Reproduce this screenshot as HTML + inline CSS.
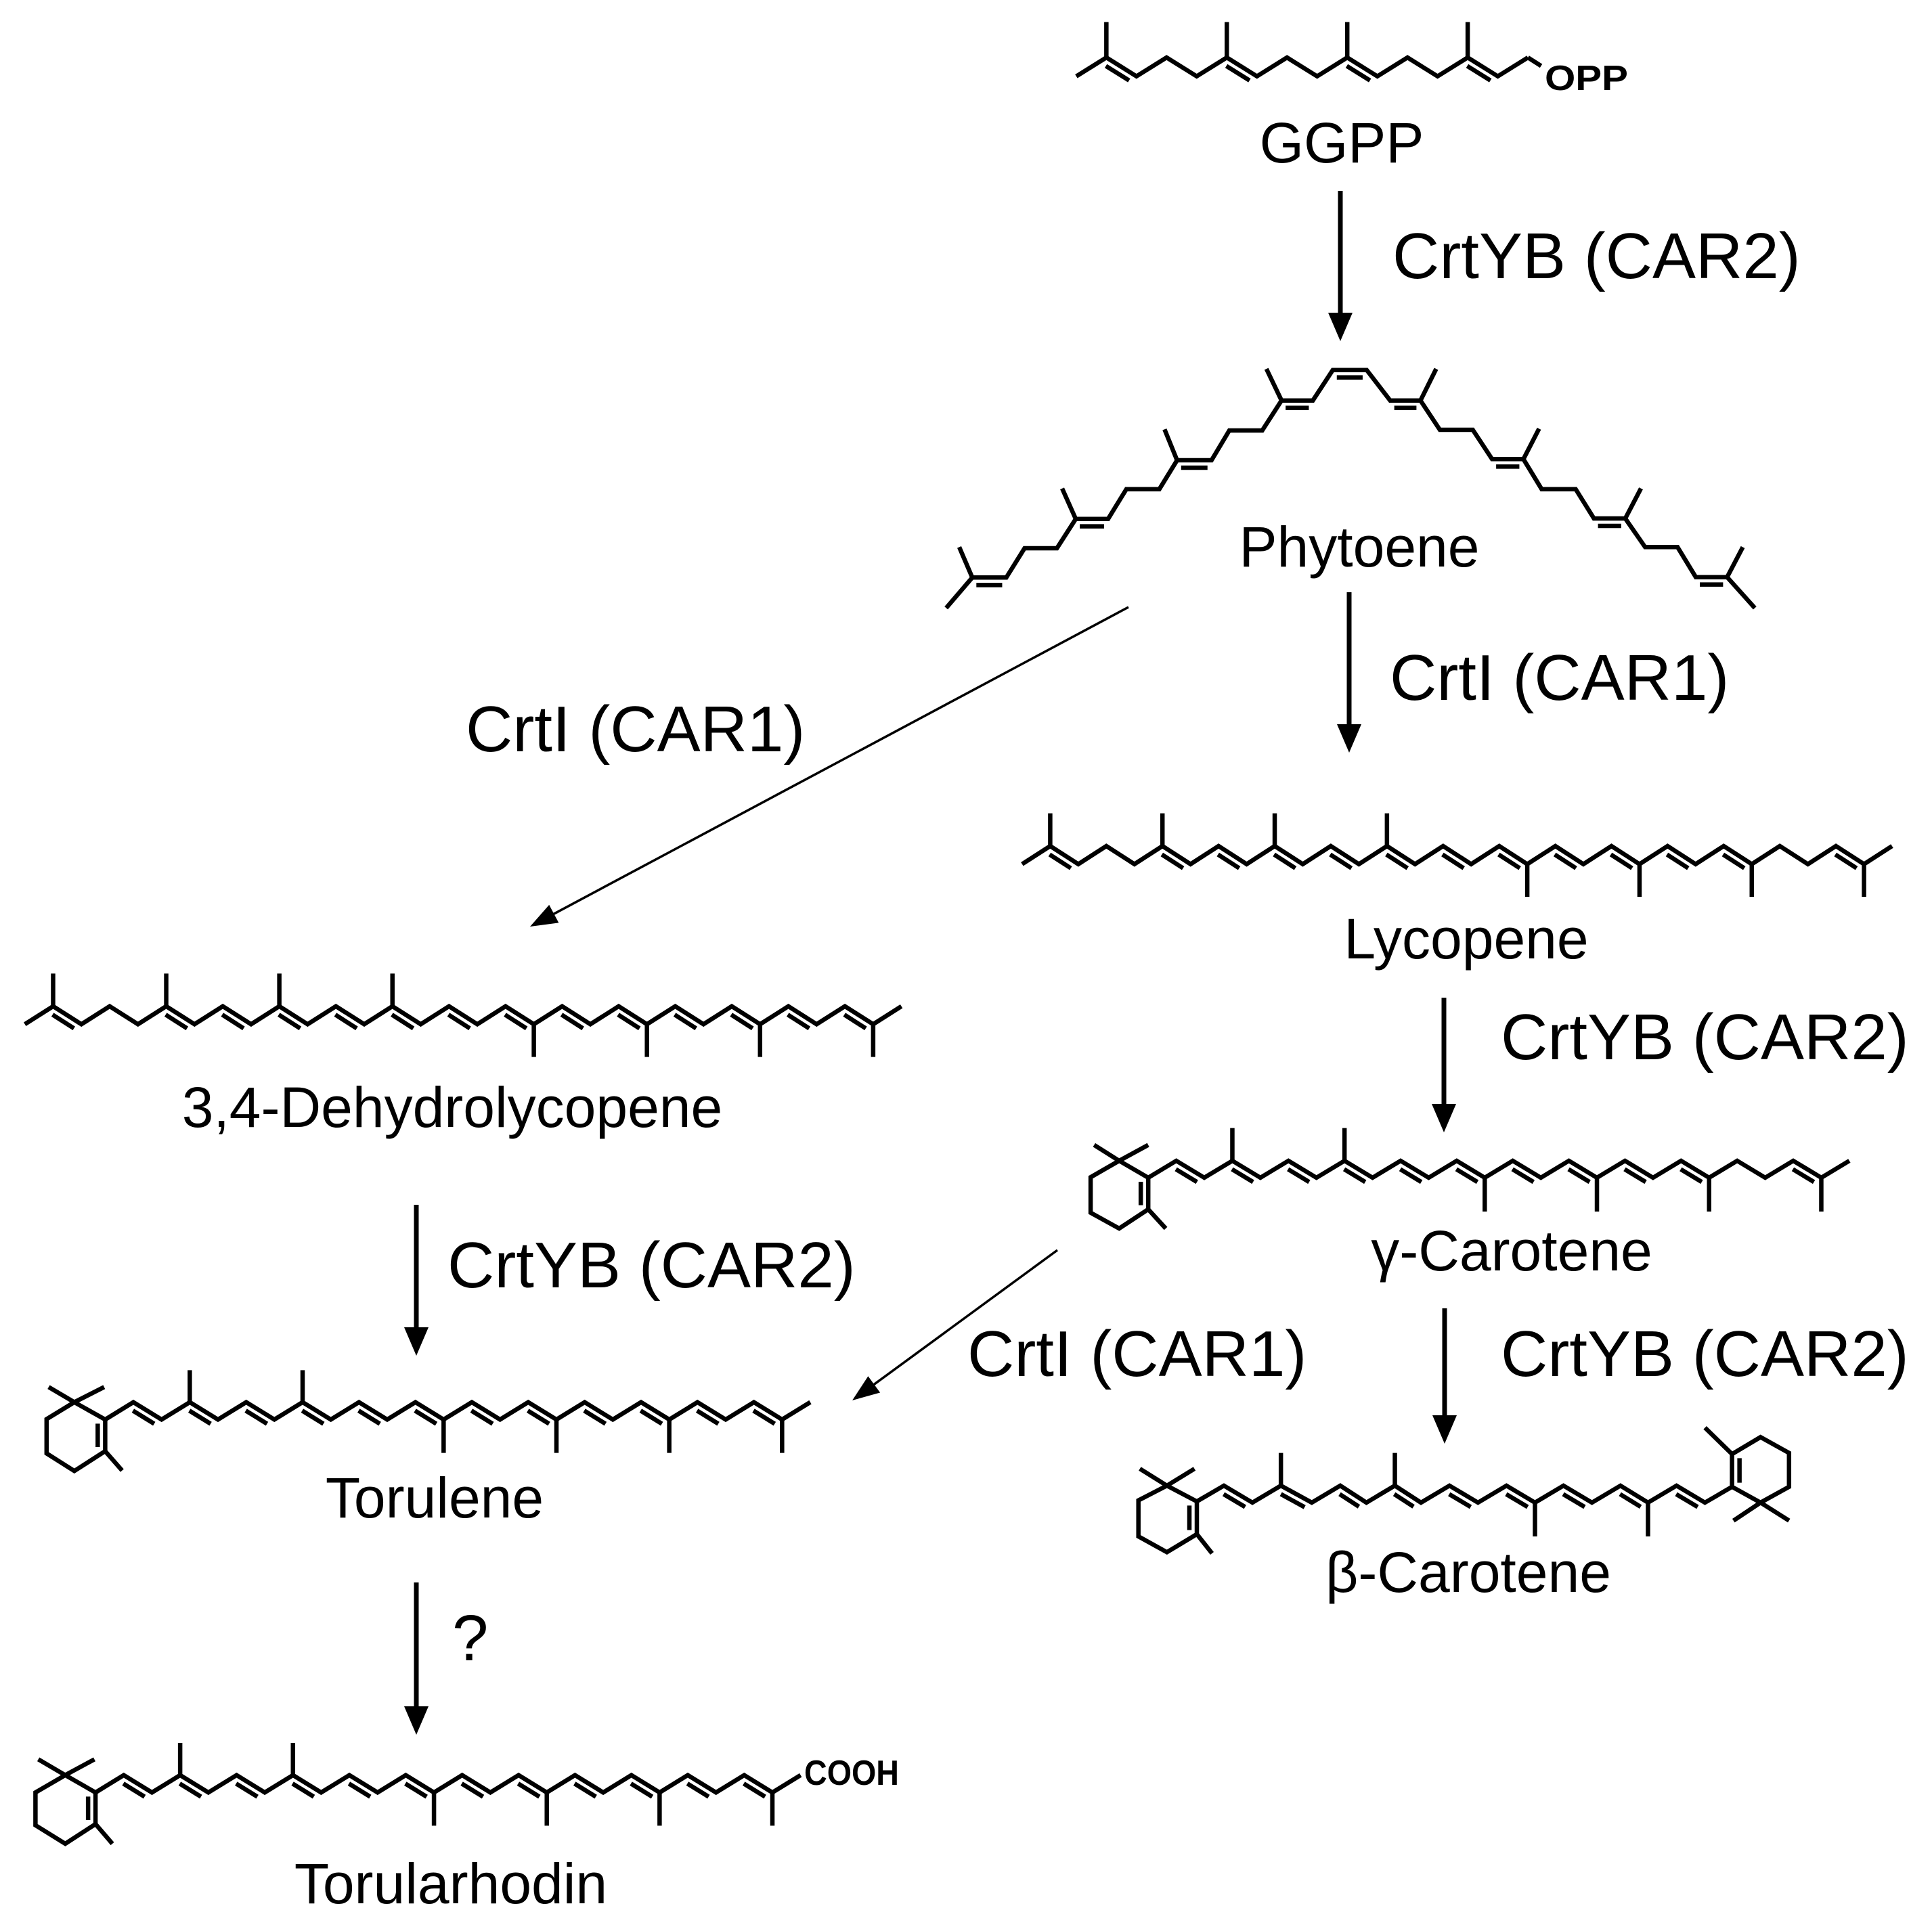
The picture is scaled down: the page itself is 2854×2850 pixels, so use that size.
<!DOCTYPE html>
<html><head><meta charset="utf-8"><style>
html,body{margin:0;padding:0;background:#fff;}
svg{display:block;}
text{font-family:"Liberation Sans",Arial,sans-serif;fill:#000;}
</style></head><body>
<svg id="s" xmlns="http://www.w3.org/2000/svg" width="2854" height="2850" viewBox="0 0 2854 2850">
<rect width="2854" height="2850" fill="#fff"/>
<g id="b" stroke="#000" stroke-width="6.5" fill="none" stroke-linejoin="miter" stroke-linecap="butt"></g>
<g font-size="84" text-anchor="middle">
<text x="1982" y="240">GGPP</text>
<text x="2008" y="837">Phytoene</text>
<text x="2166" y="1416">Lycopene</text>
<text x="668" y="1665">3,4-Dehydrolycopene</text>
<text x="2233" y="1877">γ-Carotene</text>
<text x="642" y="2242">Torulene</text>
<text x="2169" y="2352">β-Carotene</text>
<text x="666" y="2812">Torularhodin</text>
</g>
<g font-size="96">
<text x="2057" y="411">CrtYB (CAR2)</text>
<text x="2053" y="1034">CrtI (CAR1)</text>
<text x="688" y="1110">CrtI (CAR1)</text>
<text x="2217" y="1565">CrtYB (CAR2)</text>
<text x="661" y="1902">CrtYB (CAR2)</text>
<text x="1429" y="2033">CrtI (CAR1)</text>
<text x="2217" y="2033">CrtYB (CAR2)</text>
<text x="668" y="2453">?</text>
</g>
<g font-weight="bold">
<text x="2282" y="133" font-size="52" textLength="123" lengthAdjust="spacingAndGlyphs">OPP</text>
<text x="1188" y="2637" font-size="52" textLength="140" lengthAdjust="spacingAndGlyphs">COOH</text>
</g>
</svg>
<script>
(function(){
var g=document.getElementById('b'),NS='http://www.w3.org/2000/svg';
function L(a,b,sw){var e=document.createElementNS(NS,'line');e.setAttribute('x1',a[0]);e.setAttribute('y1',a[1]);e.setAttribute('x2',b[0]);e.setAttribute('y2',b[1]);if(sw)e.setAttribute('stroke-width',sw);g.appendChild(e);}
function P(pts){var e=document.createElementNS(NS,'polyline');e.setAttribute('points',pts.map(function(p){return p[0].toFixed(1)+','+p[1].toFixed(1)}).join(' '));g.appendChild(e);}
function T(m,p){return [m.X0+p[0]*m.w/1568,m.Y0+p[1]/3];}
function D(a,b,tw){var dx=b[0]-a[0],dy=b[1]-a[1],l=Math.hypot(dx,dy),ux=dx/l,uy=dy/l,nx=-uy,ny=ux;
 var mx=(a[0]+b[0])/2,my=(a[1]+b[1])/2;if(!tw)tw=[mx,my+100];
 if(nx*(tw[0]-mx)+ny*(tw[1]-my)<0){nx=-nx;ny=-ny;}
 var o=11,s=6;L([a[0]+nx*o+ux*s,a[1]+ny*o+uy*s],[b[0]+nx*o-ux*s,b[1]+ny*o-uy*s]);}
function chain(m,x0,st,yt,yb,n,startTop,meU,yU,meD,yD,dbl){
 var v=[];for(var j=0;j<n;j++){var top=((j%2==0)==startTop);v.push(T(m,[x0+st*j,top?yt:yb]));}
 P(v);
 meU.forEach(function(j){L(v[j],T(m,[x0+st*j,yU]));});
 meD.forEach(function(j){L(v[j],T(m,[x0+st*j,yD]));});
 dbl.forEach(function(j){D(v[j],v[j+1]);});
 return v;}
function ring(m,c,me1,me2,me3){var p=c.map(function(q){return T(m,q)});P(p.concat([p[0]]));
 var cx=0,cy=0;p.forEach(function(q){cx+=q[0]/6;cy+=q[1]/6;});
 L(p[0],T(m,me1));L(p[0],T(m,me2));L(p[2],T(m,me3));D(p[1],p[2],[cx,cy]);}
function odd(a,b,ex){var r=[];for(var j=a;j<=b;j+=2)if(!ex||ex.indexOf(j)<0)r.push(j);return r;}
var m={X0:1580,Y0:20,w:860};
var v=chain(m,18,81.1,195,278,16,false,[1,5,9,13],38,[],0,[1,5,9,13]);
L(v[15],T(m,[1270,232]));
m={X0:1390,Y0:530,w:1210};
var ph=[[10,1105],[60,970],[125,970],[160,840],[222,840],[258,710],[320,710],[355,578],[418,578],[452,450],[518,450],[552,318],[615,318],[652,185],[712,185],[750,50],[815,50],[860,185],[918,185],[955,315],[1018,315],[1055,445],[1115,445],[1150,578],[1215,578],[1250,708],[1310,708],[1348,835],[1410,835],[1445,968],[1505,968],[1558,1105]];
P(ph.map(function(q){return T(m,q)}));
[[[60,970],[35,835]],[[258,710],[232,575]],[[452,450],[428,313]],[[652,185],[623,45]],[[918,185],[948,45]],[[1115,445],[1145,310]],[[1310,708],[1340,575]],[[1505,968],[1535,835]]].forEach(function(s){L(T(m,s[0]),T(m,s[1]));});
[[60,125,970],[258,320,710],[452,518,450],[652,712,185],[750,815,50],[860,918,185],[1055,1115,445],[1250,1310,708],[1445,1505,968]].forEach(function(d){D(T(m,[d[0],d[2]]),T(m,[d[1],d[2]]));});
chain({X0:1500,Y0:1180,w:1300},12,50,210,290,32,false,[1,5,9,13],65,[18,22,26,30],435,odd(1,29,[3,27]));
chain({X0:30,Y0:1420,w:1310},8,50,200,280,32,false,[1,5,9,13],55,[18,22,26,30],425,odd(1,29,[3]));
m={X0:40,Y0:1990,w:1190};
ring(m,[[92,245],[152,322],[152,462],[92,550],[38,472],[38,320]],[42,178],[150,178],[185,548]);
chain(m,152,54.9,245,322,26,false,[3,7],103,[12,16,20,24],470,odd(1,23));
m={X0:1600,Y0:1660,w:1160};
ring(m,[[72,165],[130,240],[130,380],[72,465],[15,395],[15,238]],[22,95],[130,95],[165,465]);
chain(m,130,56,165,240,26,false,[3,7],20,[12,16,20,24],390,odd(1,23,[21]));
m={X0:40,Y0:2560,w:1300};
ring(m,[[68,188],[122,265],[122,405],[68,492],[15,410],[15,265]],[20,118],[120,118],[152,492]);
chain(m,122,50.25,188,265,26,false,[3,7],45,[12,16,20,24],412,odd(1,23));
m={X0:1580,Y0:2080,w:1100};
ring(m,[[205,345],[268,415],[268,560],[205,640],[145,570],[145,410]],[148,270],[263,270],[300,645]);
var bc=[[268,415],[325,345],[385,420],[445,345],[510,420],[570,345],[625,420],[685,345],[740,420],[800,345],[860,420],[920,345],[980,420],[1040,345],[1100,420],[1160,345],[1218,420],[1278,345],[1338,420],[1395,350]].map(function(q){return T(m,q)});
P(bc);
[1,3,5,7,9,11,13,15,17].forEach(function(j){D(bc[j],bc[j+1]);});
L(bc[3],T(m,[445,200]));L(bc[7],T(m,[685,200]));L(bc[12],T(m,[980,570]));L(bc[16],T(m,[1218,570]));
var R=[[1395,350],[1395,205],[1455,130],[1515,200],[1515,350],[1455,420]].map(function(q){return T(m,q)});
P(R.concat([R[0]]));
D(R[0],R[1],[(R[2][0]+R[5][0])/2,(R[2][1]+R[5][1])/2]);
L(R[1],T(m,[1338,88]));L(R[5],T(m,[1398,500]));L(R[5],T(m,[1515,500]));
function arrowV(x,y1,y2){L([x,y1],[x,y2-38],7);var e=document.createElementNS(NS,'polygon');
 e.setAttribute('points',(x-18)+','+(y2-42)+' '+(x+18)+','+(y2-42)+' '+x+','+y2);e.setAttribute('fill','#000');e.setAttribute('stroke','none');g.appendChild(e);}
function arrowD(a,b){var dx=b[0]-a[0],dy=b[1]-a[1],l=Math.hypot(dx,dy),ux=dx/l,uy=dy/l,nx=-uy,ny=ux,h=40,w=15;
 L(a,[b[0]-ux*h*0.9,b[1]-uy*h*0.9],3.5);var e=document.createElementNS(NS,'polygon');
 var bx=b[0]-ux*h,by=b[1]-uy*h;
 e.setAttribute('points',(bx+nx*w)+','+(by+ny*w)+' '+(bx-nx*w)+','+(by-ny*w)+' '+b[0]+','+b[1]);e.setAttribute('fill','#000');e.setAttribute('stroke','none');g.appendChild(e);}
arrowV(1980,282,504);
arrowV(1993,875,1112);
arrowV(2133,1474,1673);
arrowV(2134,1933,2133);
arrowV(615,1780,2003);
arrowV(615,2338,2563);
arrowD([1667,897],[783,1369]);
arrowD([1562,1847],[1259,2069]);
})();
</script>
</body></html>
